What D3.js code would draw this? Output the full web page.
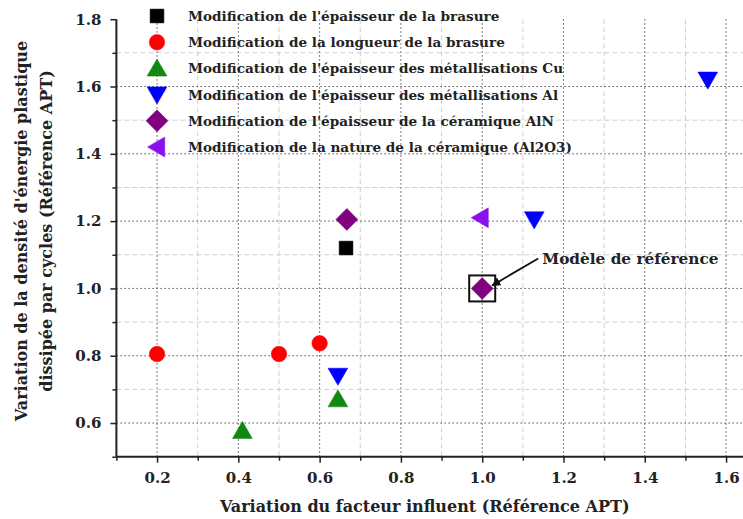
<!DOCTYPE html>
<html><head><meta charset="utf-8">
<script src="https://cdn.jsdelivr.net/npm/d3@7"></script>
<style>body{margin:0;background:#fff;} svg{display:block;} text{font-family:"DejaVu Serif",serif;font-weight:bold;fill:#222;}</style>
</head><body>
<svg id="c" width="743" height="519"></svg>
<script>
const legendLabels = [
  "Modification de l'épaisseur de la brasure",
  "Modification de la longueur de la brasure",
  "Modification de l'épaisseur des métallisations Cu",
  "Modification de l'épaisseur des métallisations Al",
  "Modification de l'épaisseur de la céramique AlN",
  "Modification de la nature de la céramique (Al2O3)"
];
const seriesBrasureEp = [{x:0.665, y:1.12}];
const seriesBrasureLong = [{x:0.2, y:0.805},{x:0.5, y:0.805},{x:0.6, y:0.837}];
const seriesCu = [{x:0.41, y:0.577},{x:0.645, y:0.671}];
const seriesAl = [{x:0.645, y:0.74},{x:1.128, y:1.205},{x:1.555, y:1.62}];
const seriesAlN = [{x:0.667, y:1.205},{x:1.0, y:1.0}];
const seriesAl2O3 = [{x:0.996, y:1.21}];
const xMajorTicks = [0.2,0.4,0.6,0.8,1.0,1.2,1.4,1.6];
const xMinorTicks = [0.1,0.3,0.5,0.7,0.9,1.1,1.3,1.5];
const yMajorTicks = [0.6,0.8,1.0,1.2,1.4,1.6,1.8];
const yMinorTicks = [0.5,0.7,0.9,1.1,1.3,1.5,1.7];
const referencePoint = {x:1.0, y:1.0, label:"Modèle de référence"};
const xTitle = "Variation du facteur influent (Référence APT)";
const yTitle = ["Variation de la densité d'énergie plastique","dissipée par cycles (Référence APT)"];

const FONT = '"DejaVu Serif",serif';
const series = [
  {data:seriesBrasureEp, sym:d3.symbolSquare, color:"#000000", size:190, rot:0},
  {data:seriesBrasureLong, sym:d3.symbolCircle, color:"#ff0000", size:190, rot:0},
  {data:seriesCu, sym:d3.symbolTriangle, color:"#118811", size:170, rot:0, dy:2},
  {data:seriesAl, sym:d3.symbolTriangle, color:"#0000ff", size:170, rot:180, dy:-2},
  {data:seriesAlN, sym:d3.symbolSquare, color:"#800080", size:240, rot:45},
  {data:seriesAl2O3, sym:d3.symbolTriangle, color:"#8a10ee", size:170, rot:-90, dx:2}
];

const svg = d3.select("#c");
const x = d3.scaleLinear().domain([0.1,1.65]).range([116.4,746.4]);
const y = d3.scaleLinear().domain([0.5,1.8]).range([456.7,19.2]);

const grid = svg.append("g");
grid.selectAll(".vmin").data(xMinorTicks.filter(d=>d>0.1)).enter().append("line")
  .attr("x1",d=>x(d)).attr("x2",d=>x(d)).attr("y1",y(1.8)).attr("y2",y(0.5))
  .attr("stroke","#cfcfcf").attr("stroke-width",1).attr("stroke-dasharray","5,3");
grid.selectAll(".hmin").data(yMinorTicks.filter(d=>d>0.5)).enter().append("line")
  .attr("x1",x(0.1)).attr("x2",743).attr("y1",d=>y(d)).attr("y2",d=>y(d))
  .attr("stroke","#cfcfcf").attr("stroke-width",1).attr("stroke-dasharray","5,3");
grid.selectAll(".vmaj").data(xMajorTicks).enter().append("line")
  .attr("x1",d=>x(d)).attr("x2",d=>x(d)).attr("y1",y(1.8)).attr("y2",y(0.5))
  .attr("stroke","#555").attr("stroke-width",1).attr("stroke-dasharray","1.5,2.5");
grid.selectAll(".hmaj").data(yMajorTicks.filter(d=>d<1.8)).enter().append("line")
  .attr("x1",x(0.1)).attr("x2",743).attr("y1",d=>y(d)).attr("y2",d=>y(d))
  .attr("stroke","#555").attr("stroke-width",1).attr("stroke-dasharray","1.5,2.5");

const xAxis = d3.axisBottom(x).tickValues(xMajorTicks).tickFormat(d3.format(".1f")).tickSize(6).tickPadding(10);
const xAxisMin = d3.axisBottom(x).tickValues(xMinorTicks).tickFormat("").tickSize(4);
const yAxis = d3.axisLeft(y).tickValues(yMajorTicks).tickFormat(d3.format(".1f")).tickSize(6).tickPadding(9);
const yAxisMin = d3.axisLeft(y).tickValues(yMinorTicks).tickFormat("").tickSize(4);

function styleAxis(g){
  g.attr("font-family",null).attr("font-size",null);
  g.select(".domain").attr("stroke","#222").attr("stroke-width",2);
  g.selectAll(".tick line").attr("stroke","#222").attr("stroke-width",1.5);
  g.selectAll(".tick text").style("font-family",FONT).style("font-weight","bold").style("font-size","15px").attr("fill","#222");
}
const gx = svg.append("g").attr("transform",`translate(0,${y(0.5)})`).call(xAxis).call(styleAxis);
gx.select(".domain").attr("d",`M${x(0.1)},0H743`);
const gxm = svg.append("g").attr("transform",`translate(0,${y(0.5)})`).call(xAxisMin).call(styleAxis);
gxm.select(".domain").remove();
const gy = svg.append("g").attr("transform",`translate(${x(0.1)},0)`).call(yAxis).call(styleAxis);
gy.select(".domain").attr("d",`M0,${y(1.8)}V${y(0.5)}`);
const gym = svg.append("g").attr("transform",`translate(${x(0.1)},0)`).call(yAxisMin).call(styleAxis);
gym.select(".domain").remove();

svg.append("text").attr("x",(x(0.1)+743)/2 - 5).attr("y",512).attr("text-anchor","middle")
  .style("font-size","16px").text(xTitle);
const yt = svg.append("text").attr("transform",`translate(0,${231}) rotate(-90)`).attr("text-anchor","middle")
  .style("font-size","16px");
yt.append("tspan").attr("x",0).attr("y",27).text(yTitle[0]);
yt.append("tspan").attr("x",0).attr("y",52).text(yTitle[1]);

function markerPath(s){ return d3.symbol().type(s.sym).size(s.size)(); }

series.forEach(s=>{
  svg.append("g").selectAll("path").data(s.data).enter().append("path")
    .attr("d",markerPath(s))
    .attr("transform",d=>`translate(${x(d.x)+(s.dx||0)},${y(d.y)+(s.dy||0)}) rotate(${s.rot})`)
    .attr("fill",s.color).attr("stroke",s.color).attr("stroke-width",0.5);
});

const lg = svg.append("g");
legendLabels.forEach((lab,i)=>{
  const s = series[i];
  const cy = 16 + i*26.2;
  lg.append("path").attr("d",markerPath(s))
    .attr("transform",`translate(${157+(s.dx||0)},${cy+(s.dy||0)}) rotate(${s.rot})`)
    .attr("fill",s.color).attr("stroke",s.color).attr("stroke-width",0.5);
  lg.append("text").attr("x",188).attr("y",cy+5).style("font-size","13.6px").text(lab);
});

const rx = x(referencePoint.x), ry = y(referencePoint.y);
svg.append("rect").attr("x",rx-13).attr("y",ry-13).attr("width",26).attr("height",26)
  .attr("fill","none").attr("stroke","#111").attr("stroke-width",2);
svg.append("defs").append("marker").attr("id","ah").attr("viewBox","0 0 10 10").attr("refX",9).attr("refY",5)
  .attr("markerWidth",5).attr("markerHeight",5).attr("orient","auto")
  .append("path").attr("d","M0,0L10,5L0,10Z").attr("fill","#111");
svg.append("line").attr("x1",rx+56).attr("y1",ry-30).attr("x2",rx+10).attr("y2",ry-3)
  .attr("stroke","#111").attr("stroke-width",1.8).attr("marker-end","url(#ah)");
svg.append("text").attr("x",rx+60).attr("y",ry-24).style("font-size","15.3px").text(referencePoint.label);
</script>
</body></html>
